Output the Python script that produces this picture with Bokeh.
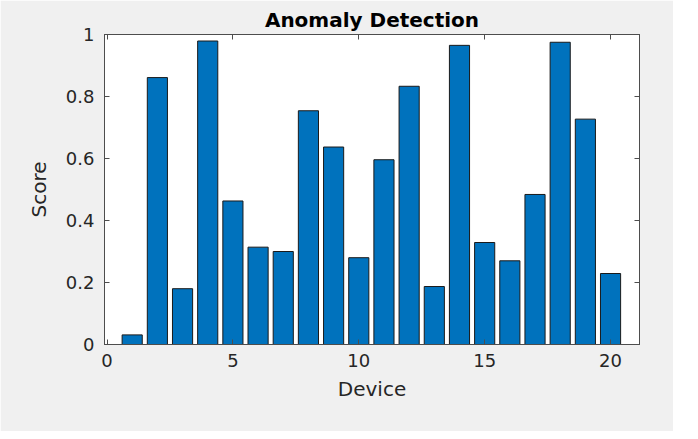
from bokeh.plotting import figure
from bokeh.models import Range1d, FixedTicker, LinearAxis
from bokeh.embed import file_html
from bokeh.resources import INLINE

devices = list(range(1, 21))
scores = [0.031, 0.861, 0.180, 0.979, 0.463, 0.314, 0.300, 0.754, 0.637, 0.280,
          0.596, 0.833, 0.187, 0.965, 0.329, 0.270, 0.484, 0.975, 0.727, 0.229]
x_ticks = [0, 5, 10, 15, 20]
y_ticks = [0, 0.2, 0.4, 0.6, 0.8, 1]
y_tick_labels = ["0", "0.2", "0.4", "0.6", "0.8", "1"]

FONT = "DejaVu Sans"
AX = "#4d4d4d"
TXT = "#262626"

p = figure(frame_width=535, frame_height=310,
           min_border_left=104, min_border_right=34,
           min_border_top=34, min_border_bottom=87,
           x_range=Range1d(-0.1, 21.15), y_range=Range1d(0, 1),
           output_backend="svg", toolbar_location=None,
           title="Anomaly Detection")

p.border_fill_color = "#f0f0f0"
p.background_fill_color = "white"
p.outline_line_color = AX
p.outline_line_width = 1
p.grid.visible = False

p.title.align = "center"
p.title.text_font = FONT
p.title.text_font_size = "20px"
p.title.text_font_style = "bold"
p.title.text_color = "#000000"
p.title.offset = 0
p.title.standoff = 6

p.vbar(x=devices, top=scores, width=0.8, bottom=0,
       fill_color="#0072BD", line_color="#1a1a1a", line_width=1)

def style(ax, labels=True):
    ax.axis_line_color = AX
    ax.major_tick_line_color = AX
    ax.major_tick_in = 5
    ax.major_tick_out = 0
    ax.minor_tick_line_color = None
    ax.major_label_text_font = FONT
    ax.major_label_text_font_size = "18px"
    ax.major_label_text_color = TXT
    ax.axis_label_text_font = FONT
    ax.axis_label_text_font_size = "20px"
    ax.axis_label_text_font_style = "normal"
    ax.axis_label_text_color = TXT
    if not labels:
        ax.major_label_text_font_size = "0px"
        ax.major_label_text_color = None
        ax.major_label_standoff = 0

xa = p.xaxis[0]
style(xa)
xa.ticker = FixedTicker(ticks=x_ticks)
xa.axis_label = "Device"
xa.major_label_standoff = 9
xa.axis_label_standoff = 7

ya = p.yaxis[0]
style(ya)
ya.ticker = FixedTicker(ticks=y_ticks)
ya.major_label_overrides = {t: l for t, l in zip(y_ticks, y_tick_labels)}
ya.axis_label = "Score"
ya.major_label_standoff = 10
ya.axis_label_standoff = 12

top_ax = LinearAxis(ticker=FixedTicker(ticks=x_ticks))
style(top_ax, labels=False)
p.add_layout(top_ax, "above")

right_ax = LinearAxis(ticker=FixedTicker(ticks=y_ticks))
style(right_ax, labels=False)
p.add_layout(right_ax, "right")

open("out.html", "w").write(file_html(p, INLINE))
